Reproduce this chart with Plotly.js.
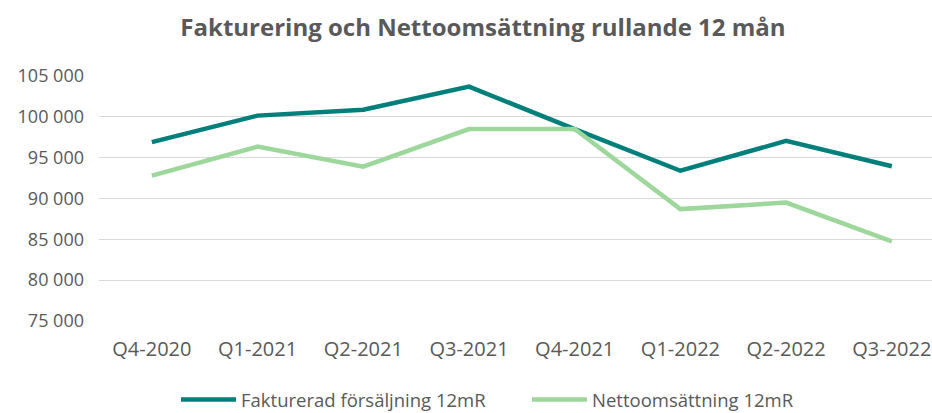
<!DOCTYPE html>
<html>
<head>
<meta charset="utf-8">
<script src="https://cdn.plot.ly/plotly-3.0.1.min.js"></script>
<style>html,body{margin:0;padding:0;background:#fff;}#chart{width:932px;height:413px;}</style>
</head>
<body>
<div id="chart"></div>
<script>
const categories = ["Q4-2020","Q1-2021","Q2-2021","Q3-2021","Q4-2021","Q1-2022","Q2-2022","Q3-2022"];
const fakturerad = [96900, 100150, 100870, 103700, 98500, 93400, 97050, 93950];
const netto = [92800, 96350, 93900, 98500, 98500, 88700, 89500, 84750];
const seriesNames = ["Fakturerad försäljning 12mR", "Nettoomsättning 12mR"];
const yTicks = [75000, 80000, 85000, 90000, 95000, 100000, 105000];

const font = "'Open Sans', sans-serif";
const grey = "#595959";

const traces = [
  {x: categories, y: fakturerad, name: seriesNames[0], type: "scatter", mode: "lines",
   line: {color: "#007F7B", width: 4.5, shape: "linear"}},
  {x: categories, y: netto, name: seriesNames[1], type: "scatter", mode: "lines",
   line: {color: "#9DD79C", width: 4.5, shape: "linear"}}
];

const layout = {
  width: 932, height: 413,
  margin: {l: 99, r: 0, t: 76, b: 92},
  paper_bgcolor: "#fff", plot_bgcolor: "#fff",
  separators: ", ",
  font: {family: font, color: grey, size: 18},
  title: {text: "<b>Fakturering och Nettoomsättning rullande 12 mån</b>",
          font: {family: font, size: 24, color: grey},
          x: 483/932, xanchor: "center", xref: "container",
          y: 1 - 28/413, yanchor: "middle", yref: "container"},
  xaxis: {type: "category", range: [-0.5, 7.38], showgrid: false, zeroline: false,
          showline: false, ticks: "", tickfont: {family: font, size: 20, color: grey},
          ticklabelstandoff: 14, fixedrange: true},
  yaxis: {range: [75000, 105000], tickvals: yTicks, tickformat: ",d",
          showgrid: true, gridcolor: "#D9D9D9", gridwidth: 1.3, zeroline: false,
          showline: false, ticks: "", tickfont: {family: font, size: 18, color: grey},
          ticklabelstandoff: 14, fixedrange: true},
  showlegend: true,
  legend: {orientation: "h", x: 176/932, xanchor: "left", xref: "container",
           y: 13/413, yanchor: "middle", yref: "container",
           font: {family: font, size: 18.5, color: grey},
           itemwidth: 55, traceorder: "normal", entrywidth: 281, entrywidthmode: "pixels"}
};

Plotly.newPlot("chart", traces, layout, {displayModeBar: false, staticPlot: true});
</script>
</body>
</html>
